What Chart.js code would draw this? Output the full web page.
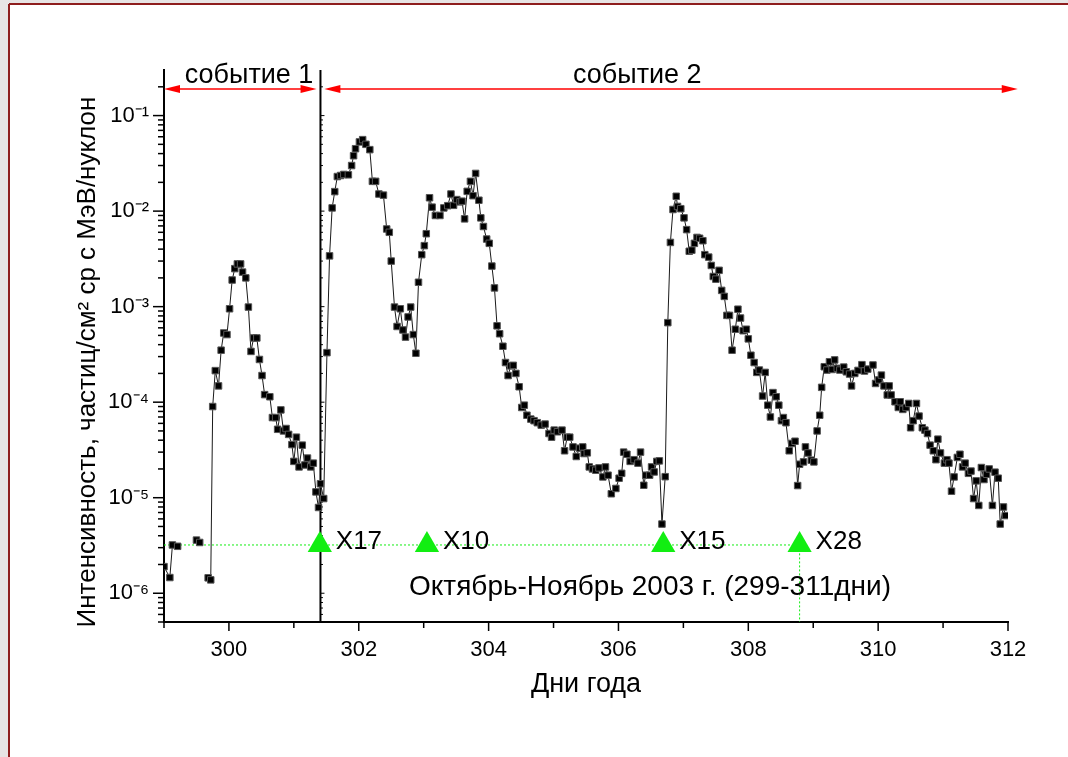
<!DOCTYPE html>
<html>
<head>
<meta charset="utf-8">
<script src="https://cdn.jsdelivr.net/npm/chart.js@4.4.0/dist/chart.umd.min.js"></script>
<style>
  html, body { margin: 0; padding: 0; background: #fff; }
  #chart { display: block; }
</style>
</head>
<body>
<canvas id="chart" width="1068" height="757"></canvas>
<script>
// Proton intensity, days of year 299-312 (2003). null = no data, breaks the line.
const days = [
  299.00, 299.09, 299.13, 299.21, 299.35,
  299.50, 299.55, 299.62,
  299.68, 299.72, 299.75, 299.79, 299.84, 299.88, 299.92, 299.97, 300.01, 300.05,
  300.09, 300.13, 300.18, 300.21, 300.26, 300.30, 300.34, 300.38, 300.43, 300.47,
  300.51, 300.55, 300.63, 300.67, 300.72, 300.75, 300.80, 300.84, 300.88, 300.92,
  300.97, 301.00, 301.04, 301.08, 301.13, 301.17, 301.21, 301.26, 301.30, 301.34,
  301.38, 301.41, 301.46, 301.51, 301.55, 301.59, 301.63, 301.67, 301.72, 301.77,
  301.84, 301.89, 301.92, 301.95, 302.01, 302.06, 302.11, 302.17, 302.21, 302.26,
  302.31, 302.38, 302.43, 302.47, 302.50, 302.55, 302.59, 302.64, 302.68, 302.72,
  302.76, 302.80, 302.84, 302.88, 302.92, 302.97, 303.01, 303.04, 303.09, 303.13,
  303.18, 303.25, 303.31, 303.37, 303.42, 303.46, 303.51, 303.56, 303.59, 303.63,
  303.67, 303.72, 303.76, 303.80, 303.85, 303.88, 303.92, 303.97, 304.01, 304.05,
  304.09, 304.13, 304.17, 304.22, 304.26, 304.30, 304.34, 304.38, 304.42, 304.47,
  304.51, 304.55, 304.59, 304.65, 304.70, 304.75, 304.81, 304.87, 304.93, 304.97,
  305.01, 305.06, 305.13, 305.17, 305.21, 305.25, 305.30, 305.35, 305.40, 305.45,
  305.47, 305.52, 305.55, 305.60, 305.65, 305.70, 305.76, 305.80, 305.84, 305.89,
  305.96, 306.01, 306.05, 306.08, 306.13, 306.18, 306.24, 306.30, 306.34, 306.39,
  306.42, 306.48, 306.51, 306.55, 306.59, 306.63, 306.67, 306.72, 306.76, 306.80,
  306.84, 306.89, 306.91, 306.96, 307.01, 307.05, 307.09, 307.13, 307.17, 307.21,
  307.25, 307.30, 307.33, 307.39, 307.43, 307.46, 307.50, 307.55, 307.59, 307.63,
  307.67, 307.71, 307.75, 307.80, 307.84, 307.88, 307.92, 307.97, 308.00, 308.04,
  308.09, 308.13, 308.17, 308.22, 308.26, 308.30, 308.34, 308.38, 308.43, 308.47,
  308.51, 308.54, 308.58, 308.63, 308.67, 308.72, 308.76, 308.79, 308.85, 308.88,
  308.92, 308.97, 309.01, 309.06, 309.10, 309.13, 309.17, 309.21, 309.25, 309.29,
  309.33, 309.37, 309.41, 309.47, 309.51, 309.56, 309.59, 309.64, 309.69, 309.75,
  309.79, 309.84, 309.92, 309.96, 310.01, 310.05, 310.09, 310.14, 310.17, 310.20,
  310.26, 310.31, 310.34, 310.38, 310.43, 310.47, 310.50, 310.54, 310.59, 310.63,
  310.68, 310.72, 310.76, 310.80, 310.85, 310.89, 310.92, 310.96, 311.02, 311.06,
  311.09, 311.13, 311.17, 311.22, 311.26, 311.30, 311.34, 311.39, 311.43, 311.47,
  311.51, 311.55, 311.59, 311.63, 311.67, 311.71, 311.76, 311.80, 311.85, 311.88,
  311.93, 311.96
];
const flux = [
  1.9e-6, 1.46e-6, 3.2e-6, 3.1e-6, null,
  3.6e-6, 3.4e-6, null,
  1.45e-6, 1.38e-6, 9.0e-5, 2.14e-4, 1.48e-4, 3.5e-4, 5.3e-4, 5.1e-4, 9.5e-4, 1.9e-3,
  2.5e-3, 2.8e-3, 2.8e-3, 2.3e-3, 2.0e-3, 9.9e-4, 3.4e-4, 4.7e-4, 4.7e-4, 2.8e-4,
  1.9e-4, 1.2e-4, 1.14e-4, 6.9e-5, 6.9e-5, 5.2e-5, 8.3e-5, 5.0e-5, 5.3e-5, 4.6e-5,
  3.6e-5, 2.4e-5, 4.3e-5, 2.1e-5, 3.55e-5, 2.2e-5, 2.6e-5, 2.1e-5, 2.3e-5, 1.15e-5,
  7.9e-6, 1.4e-5, 9.8e-6, 3.3e-4, 3.4e-3, 1.08e-2, 1.6e-2, 2.3e-2, 2.36e-2, 2.42e-2,
  2.4e-2, 3.0e-2, 3.8e-2, 4.5e-2, 5.3e-2, 5.6e-2, 5.0e-2, 4.4e-2, 2.05e-2, 2.05e-2,
  1.51e-2, 1.47e-2, 6.5e-3, 6.0e-3, 3.0e-3, 9.9e-4, 6.2e-4, 9.5e-4, 5.7e-4, 4.8e-4,
  7.8e-4, 9.9e-4, 5.1e-4, 3.25e-4, 1.8e-3, 3.5e-3, 4.35e-3, 5.8e-3, 1.38e-2, 1.1e-2,
  9.0e-3, 9.0e-3, 1.08e-2, 1.14e-2, 1.51e-2, 1.15e-2, 1.32e-2, 1.25e-2, 1.27e-2, 8.3e-3,
  1.61e-2, 2.05e-2, 1.45e-2, 2.48e-2, 1.3e-2, 8.5e-3, 6.9e-3, 5.1e-3, 4.6e-3, 2.66e-3,
  1.57e-3, 6.3e-4, 5.2e-4, 3.85e-4, 2.6e-4, 1.9e-4, 2.4e-4, 2.43e-4, 2.0e-4, 1.45e-4,
  8.8e-5, 9.3e-5, 7.3e-5, 6.65e-5, 6.4e-5, 6.1e-5, 5.75e-5, 5.9e-5, 4.7e-5, 4.3e-5,
  5.1e-5, 4.9e-5, 5.1e-5, 3.1e-5, 4.3e-5, 4.3e-5, 3.4e-5, 2.7e-5, 3.3e-5, 3.4e-5,
  2.9e-5, 2.95e-5, 2.1e-5, 2.0e-5, 1.94e-5, 2.05e-5, 1.65e-5, 2.1e-5, 1.72e-5, 1.1e-5,
  1.25e-5, 1.6e-5, 1.8e-5, 3.0e-5, 2.85e-5, 2.4e-5, 2.5e-5, 2.3e-5, 3.0e-5, 1.35e-5,
  1.72e-5, 1.72e-5, 2.1e-5, 1.86e-5, 2.4e-5, 2.43e-5, 5.3e-6, 1.66e-5, 6.8e-4, 4.7e-3,
  1.04e-2, 1.43e-2, 1.12e-2, 1.06e-2, 8.5e-3, 6.4e-3, 3.8e-3, 3.9e-3, 4.6e-3, 5.3e-3,
  5.2e-3, 4.9e-3, 3.5e-3, 3.3e-3, 2.7e-3, 2.07e-3, 1.94e-3, 2.4e-3, 1.48e-3, 1.28e-3,
  8.1e-4, 8.1e-4, 3.5e-4, 5.8e-4, 9.4e-4, 7.6e-4, 5.6e-4, 5.8e-4, 4.6e-4, 3.1e-4,
  2.6e-4, 2.05e-4, 2.17e-4, 1.16e-4, 2.05e-4, 9.3e-5, 7.0e-5, 1.26e-4, 1.14e-4, 9.3e-5,
  6.4e-5, 6.9e-5, 6.1e-5, 3.1e-5, 3.7e-5, 3.9e-5, 1.34e-5, 2.24e-5, 2.37e-5, 3.4e-5,
  2.94e-5, 2.47e-5, 2.37e-5, 5.0e-5, 7.3e-5, 1.43e-4, 2.35e-4, 2.17e-4, 2.65e-4, 2.2e-4,
  2.77e-4, 2.26e-4, 2.17e-4, 2.33e-4, 2.08e-4, 1.97e-4, 1.48e-4, 2.0e-4, 2.15e-4, 2.47e-4,
  2.12e-4, 2.22e-4, 2.45e-4, 1.57e-4, 1.71e-4, 1.92e-4, 1.48e-4, 1.19e-4, 1.48e-4, 1.19e-4,
  1.01e-4, 8.8e-5, 1.01e-4, 8.4e-5, 8.8e-5, 9.7e-5, 5.4e-5, 6.4e-5, 9.7e-5, 7.15e-5,
  5.4e-5, 5.1e-5, 4.7e-5, 3.55e-5, 3.1e-5, 2.5e-5, 4.1e-5, 2.94e-5, 2.3e-5, 2.5e-5,
  2.3e-5, 1.17e-5, 1.65e-5, 2.64e-5, 2.85e-5, 2.1e-5, 2.3e-5, 1.8e-5, 1.9e-5, 9.8e-6,
  1.5e-5, 8.3e-6, 2.07e-5, 1.55e-5, 1.76e-5, 2.0e-5, 8.3e-6, 1.85e-5, 1.6e-5, 5.3e-6,
  8.0e-6, 6.5e-6
];

// X-class flares
const flareDays = [301.40, 303.05, 306.69, 308.79];
const flareNames = ['X17', 'X10', 'X15', 'X28'];
const flareLevel = 3.2e-6;

// event split and the two event spans (day of year)
const eventSplit = 301.41;
const eventNames = ['событие 1', 'событие 2'];
const eventSpans = [[299.0, 301.35], [301.47, 312.15]];
const eventLabelDays = [300.31, 306.29];
const eventLevel = 0.19;

const xMin = 299, xMax = 312;
const yMin = 5e-7, yMax = 0.3;
const xTickValues = [299, 300, 301, 302, 303, 304, 305, 306, 307, 308, 309, 310, 311, 312];
const yTickValues = [1e-6, 1e-5, 1e-4, 1e-3, 1e-2, 1e-1];
const yTickLabels = ['10⁻⁶', '10⁻⁵', '10⁻⁴', '10⁻³', '10⁻²', '10⁻¹'];

const FONT = '"Liberation Sans", Arial, sans-serif';
const GREEN = '#12ee12';

function line(ctx, x1, y1, x2, y2) {
  ctx.beginPath();
  ctx.moveTo(x1, y1);
  ctx.lineTo(x2, y2);
  ctx.stroke();
}

function arrowHead(ctx, x, y, dir) {
  ctx.beginPath();
  ctx.moveTo(x, y);
  ctx.lineTo(x - dir * 16, y - 4);
  ctx.lineTo(x - dir * 16, y + 4);
  ctx.closePath();
  ctx.fill();
}

const decor = {
  id: 'decor',
  beforeDraw(chart) {
    const {ctx, width, height} = chart;
    ctx.save();
    ctx.fillStyle = '#e7e4e4';
    ctx.fillRect(0, 0, width, height);
    ctx.fillStyle = '#fff';
    ctx.fillRect(9, 4, width - 9, height - 4);
    ctx.strokeStyle = '#8e1d1d';
    ctx.lineWidth = 2;
    line(ctx, 9, 4, 9, height);
    line(ctx, 9, 4, width, 4);
    ctx.restore();
  },
  beforeDatasetsDraw(chart) {
    const {ctx, chartArea: a, scales: {x, y}} = chart;
    const vx = x.getPixelForValue(eventSplit);
    ctx.save();
    ctx.strokeStyle = '#000';
    ctx.lineWidth = 2;
    line(ctx, vx, a.top, vx, a.bottom);
    // small tick marks on the right side of the split line
    ctx.lineWidth = 1;
    for (let e = -7; e <= 0; e++) {
      for (let m = 1; m <= 9; m++) {
        const v = m * Math.pow(10, e);
        if (v < yMin || v > yMax) continue;
        const py = y.getPixelForValue(v);
        line(ctx, vx, py, vx + (m === 1 ? 4 : 2.5), py);
      }
    }
    ctx.restore();
  },
  afterDraw(chart) {
    const {ctx, chartArea: a, scales: {x, y}} = chart;
    ctx.save();
    ctx.strokeStyle = '#000';
    ctx.lineWidth = 1.5;

    // y axis: major ticks at decades, minor ticks at 2..9
    for (let e = -7; e <= 0; e++) {
      for (let m = 1; m <= 9; m++) {
        const v = m * Math.pow(10, e);
        if (v < yMin || v > yMax) continue;
        const py = y.getPixelForValue(v);
        line(ctx, a.left - (m === 1 ? 11 : 6), py, a.left, py);
      }
    }
    // x axis ticks
    xTickValues.forEach(d => {
      const px = x.getPixelForValue(d);
      line(ctx, px, a.bottom, px, a.bottom + (d % 2 === 0 ? 9 : 6));
    });

    // event arrows
    ctx.strokeStyle = '#ff0000';
    ctx.fillStyle = '#ff0000';
    ctx.lineWidth = 1.5;
    const ay = y.getPixelForValue(eventLevel);
    eventSpans.forEach(([d1, d2]) => {
      const x1 = x.getPixelForValue(d1), x2 = x.getPixelForValue(d2);
      line(ctx, x1 + 4, ay, x2 - 4, ay);
      arrowHead(ctx, x1, ay, -1);
      arrowHead(ctx, x2, ay, 1);
    });

    ctx.fillStyle = '#000';
    ctx.textAlign = 'center';
    ctx.textBaseline = 'alphabetic';
    ctx.font = '27px ' + FONT;
    eventNames.forEach((t, i) => {
      ctx.fillText(t, x.getPixelForValue(eventLabelDays[i]), ay - 6);
    });

    // flare classes next to the triangles
    ctx.textAlign = 'left';
    ctx.font = '26px ' + FONT;
    const fy = y.getPixelForValue(flareLevel);
    flareNames.forEach((t, i) => {
      ctx.fillText(t, x.getPixelForValue(flareDays[i]) + 16, fy + 4);
    });

    ctx.textAlign = 'center';
    ctx.font = '28px ' + FONT;
    ctx.fillText('Октябрь-Ноябрь 2003 г. (299-311дни)', (a.left + a.right) / 2 + 64, a.bottom - 27);

    // axis titles
    ctx.font = '27px ' + FONT;
    ctx.fillText('Дни года', (a.left + a.right) / 2, a.bottom + 70);
    ctx.save();
    ctx.translate(88, (a.top + a.bottom) / 2 + 16);
    ctx.rotate(-Math.PI / 2);
    ctx.textBaseline = 'middle';
    ctx.font = '26px ' + FONT;
    ctx.fillText('Интенсивность, частиц/см² ср с МэВ/нуклон', 0, 0);
    ctx.restore();

    ctx.restore();
  }
};

new Chart(document.getElementById('chart'), {
  type: 'line',
  data: {
    datasets: [
      {
        label: 'intensity',
        data: days.map((d, i) => ({x: d, y: flux[i]})),
        borderColor: '#1a1a1a',
        borderWidth: 1,
        pointStyle: 'rect',
        pointRadius: 4.6,
        pointBackgroundColor: '#000',
        pointBorderColor: '#555',
        pointBorderWidth: 1,
        spanGaps: false,
        tension: 0
      },
      {
        label: 'flares',
        data: flareDays.map(d => ({x: d, y: flareLevel})),
        showLine: false,
        pointStyle: 'triangle',
        pointRadius: 14,
        pointBackgroundColor: GREEN,
        pointBorderWidth: 0
      },
      {
        label: 'flare level',
        data: [
          {x: xMin, y: flareLevel},
          {x: flareDays[3], y: flareLevel},
          {x: flareDays[3], y: yMin}
        ],
        borderColor: GREEN,
        borderWidth: 1,
        borderDash: [2, 2],
        pointRadius: 0
      }
    ]
  },
  options: {
    responsive: false,
    animation: false,
    devicePixelRatio: 1,
    layout: { padding: { left: 0, top: 70, right: 60, bottom: 0 } },
    plugins: { legend: { display: false }, tooltip: { enabled: false } },
    scales: {
      x: {
        type: 'linear',
        min: xMin,
        max: xMax,
        afterBuildTicks: s => { s.ticks = xTickValues.map(v => ({value: v})); },
        afterFit: s => { s.height = 135; },
        grid: { display: false, drawTicks: false },
        border: { display: true, color: '#000', width: 2 },
        ticks: {
          autoSkip: false,
          maxRotation: 0,
          padding: 15,
          color: '#000',
          font: { family: FONT, size: 22 },
          callback: v => (v % 2 === 0 ? String(v) : '')
        }
      },
      y: {
        type: 'logarithmic',
        min: yMin,
        max: yMax,
        afterBuildTicks: s => { s.ticks = yTickValues.map(v => ({value: v})); },
        afterFit: s => { s.width = 164; },
        grid: { display: false, drawTicks: false },
        border: { display: true, color: '#000', width: 2 },
        ticks: {
          autoSkip: false,
          padding: 15,
          color: '#000',
          font: { family: FONT, size: 22 },
          callback: v => {
            const i = yTickValues.findIndex(t => Math.abs(t - v) / t < 1e-6);
            return i >= 0 ? yTickLabels[i] : '';
          }
        }
      }
    }
  },
  plugins: [decor]
});
</script>
</body>
</html>
